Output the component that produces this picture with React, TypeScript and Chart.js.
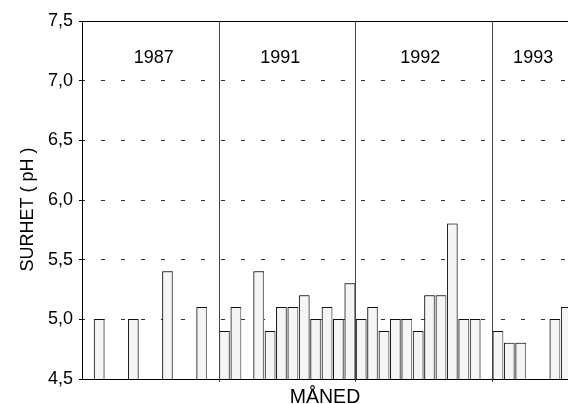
import { useEffect, useRef } from 'react';
import { Chart, registerables } from 'chart.js';

Chart.register(...registerables);

// Section (year) labels and monthly pH values (null = no sample)
const years = ['1987', '1991', '1992', '1993'];
const ph1987 = [null, 5.0, null, null, 5.0, null, null, 5.4, null, null, 5.1, null];
const ph1991 = [4.9, 5.1, null, 5.4, 4.9, 5.1, 5.1, 5.2, 5.0, 5.1, 5.0, 5.3];
const ph1992 = [5.0, 5.1, 4.9, 5.0, 5.0, 4.9, 5.2, 5.2, 5.8, 5.0, 5.0, null];
const ph1993 = [4.9, 4.8, 4.8, null, null, 5.0, 5.1];
const yTicks = [4.5, 5.0, 5.5, 6.0, 6.5, 7.0, 7.5];
const monthsPerYear = 12;
const visibleMonths = 42.66; // the picture is cut off part-way through 1993
const yearLabelAt = [6.3, 17.4, 29.7, 39.6]; // label centres, in month units

const FONT = '"Liberation Sans", Arial, Helvetica, sans-serif';

const sections = [ph1987, ph1991, ph1992, ph1993];
const points = sections.flatMap((vals, s) =>
  vals
    .map((v, m) => ({ x: s * monthsPerYear + m + 0.5, y: v }))
    .filter((p) => p.y !== null)
);

const shadowPlugin = {
  id: 'barShadow',
  beforeDatasetsDraw(chart: any) {
    const { ctx } = chart;
    ctx.save();
    ctx.shadowColor = '#8a8a8a';
    ctx.shadowOffsetX = 1;
    ctx.shadowOffsetY = 0;
    ctx.shadowBlur = 0;
  },
  afterDatasetsDraw(chart: any) {
    chart.ctx.restore();
  },
};

const framePlugin = {
  id: 'frame',
  afterDatasetsDraw(chart: any) {
    const { ctx, chartArea, scales } = chart;
    const xs = scales.x;
    ctx.save();
    ctx.shadowColor = 'rgba(0,0,0,0)';
    // top border
    ctx.strokeStyle = '#000';
    ctx.lineWidth = 1;
    ctx.beginPath();
    ctx.moveTo(chartArea.left, Math.round(chartArea.top) + 0.5);
    ctx.lineTo(chartArea.right, Math.round(chartArea.top) + 0.5);
    ctx.stroke();
    // year separators
    ctx.strokeStyle = '#444';
    for (let s = 1; s < years.length; s++) {
      const px = Math.round(xs.getPixelForValue(s * monthsPerYear)) + 0.5;
      ctx.beginPath();
      ctx.moveTo(px, chartArea.top);
      ctx.lineTo(px, chartArea.bottom + 3);
      ctx.stroke();
    }
    // year labels
    ctx.fillStyle = '#000';
    ctx.font = `18px ${FONT}`;
    ctx.textAlign = 'center';
    ctx.textBaseline = 'alphabetic';
    years.forEach((y, i) => {
      ctx.fillText(y, xs.getPixelForValue(yearLabelAt[i]), 63);
    });
    // axis titles
    ctx.save();
    ctx.translate(33, (chartArea.top + chartArea.bottom) / 2 + 9.5);
    ctx.rotate(-Math.PI / 2);
    ctx.fillText('SURHET ( pH )', 0, 0);
    ctx.restore();
    ctx.font = `19.5px ${FONT}`;
    ctx.fillText('MÅNED', (chartArea.left + chartArea.right) / 2, 403);
    ctx.restore();
  },
};

export default function App() {
  const ref = useRef<HTMLCanvasElement | null>(null);
  useEffect(() => {
    if (!ref.current) return;
    const chart = new Chart(ref.current, {
      type: 'bar',
      data: {
        datasets: [
          {
            data: points as any,
            backgroundColor: '#f5f5f5',
            borderColor: '#111',
            borderWidth: 1,
            barThickness: 10,
          },
        ],
      },
      options: {
        animation: false,
        responsive: false,
        devicePixelRatio: 1,
        layout: { padding: { top: 21, left: 0, right: 0, bottom: 0 } },
        plugins: { legend: { display: false }, tooltip: { enabled: false } },
        scales: {
          x: {
            type: 'linear',
            min: 0,
            max: visibleMonths,
            offset: false,
            grid: { display: false, offset: false },
            ticks: { display: false },
            border: { display: true, color: '#000', width: 1 },
            afterFit: (scale: any) => {
              scale.height = 25;
            },
          },
          y: {
            min: yTicks[0],
            max: yTicks[yTicks.length - 1],
            beginAtZero: false,
            afterBuildTicks: (scale: any) => {
              scale.ticks = yTicks.map((v) => ({ value: v }));
            },
            ticks: {
              color: '#000',
              font: { family: FONT, size: 18 },
              padding: 6,
              callback: (v: any) => Number(v).toFixed(1).replace('.', ','),
            },
            grid: {
              color: (c: any) =>
                c.tick && (c.tick.value === yTicks[0] || c.tick.value === yTicks[yTicks.length - 1])
                  ? 'rgba(0,0,0,0)'
                  : '#333',
              tickColor: '#000',
              tickLength: 3,
              lineWidth: 1,
            },
            border: { display: true, color: '#000', width: 1, dash: [4, 16], dashOffset: 2 },
            afterFit: (scale: any) => {
              scale.width = 82;
            },
          },
        },
      },
      plugins: [shadowPlugin, framePlugin],
    });
    return () => chart.destroy();
  }, []);
  return (
    <div style={{ position: 'absolute', left: 0, top: 0, width: 568, height: 404, background: '#fff' }}>
      <canvas ref={ref} width={568} height={404} />
    </div>
  );
}
